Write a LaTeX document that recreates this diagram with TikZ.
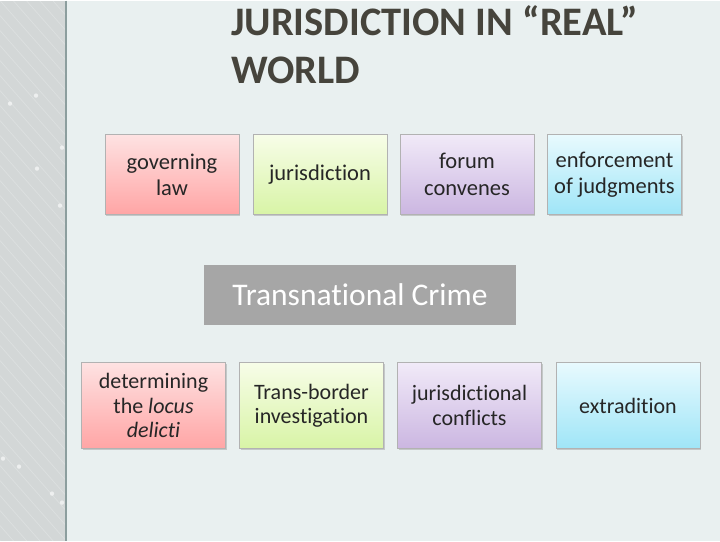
\documentclass[tikz,border=0pt]{standalone}
\usepackage{fontspec}
\setmainfont{Carlito}[Ligatures={NoCommon}]
\usetikzlibrary{shadows}

\definecolor{slidebg}{HTML}{E9F0F0}
\definecolor{stripbg}{HTML}{D3D7D7}
\definecolor{stripline}{HTML}{8C9E9E}
\definecolor{titlegrey}{HTML}{46443C}
\definecolor{crimegrey}{HTML}{A6A6A6}
\definecolor{pinktop}{HTML}{FEE2E2}
\definecolor{pinkbot}{HTML}{FFA5A5}
\definecolor{greentop}{HTML}{F7FDE8}
\definecolor{greenbot}{HTML}{D8F4A6}
\definecolor{lilactop}{HTML}{F1EAF8}
\definecolor{lilacbot}{HTML}{CBB6E1}
\definecolor{bluetop}{HTML}{E8FAFE}
\definecolor{bluebot}{HTML}{9FE5F7}

\tikzset{
  topic/.style={draw=black!30, line width=0.6pt, align=center, text=black!85,
    inner sep=2pt, drop shadow={shadow xshift=1pt, shadow yshift=-1.5pt, opacity=0.35}},
  upper/.style={topic, minimum width=134pt, minimum height=80pt, font=\fontsize{22.5}{26.5}\selectfont},
  lower/.style={topic, minimum width=144pt, minimum height=86pt, font=\fontsize{22}{24.5}\selectfont},
  pinkbox/.style={top color=pinktop, bottom color=pinkbot},
  greenbox/.style={top color=greentop, bottom color=greenbot},
  lilacbox/.style={top color=lilactop, bottom color=lilacbot},
  bluebox/.style={top color=bluetop, bottom color=bluebot},
  heading/.style={anchor=base west, text=titlegrey, inner sep=0pt,
    font=\fontsize{40.5}{48}\selectfont\bfseries},
}

\begin{document}
\begin{tikzpicture}[x=1pt, y=-1pt]
    % slide background and circuit strip
    \fill[slidebg] (0,0) rectangle (720,540);
    \fill[stripbg] (0,0) rectangle (66,540);
    \begin{scope}
      \clip (0,0) rectangle (66,540);
      \foreach \s in {-60,-45,...,560}
        \draw[white, opacity=0.22, line width=0.7pt] (0,\s) -- (66,\s+75);
      \foreach \px/\py in {10/103,62/147,37/168,60/205,3/458,19/466,62/502,52/493,36/95}
        \fill[white, opacity=0.6] (\px,\py) circle (2.2pt);
    \end{scope}
    \draw[stripline, line width=1.2pt] (66,0) -- (66,540);

    % title, two lines
    \node[heading] (title)  at (231,35) {JURISDICTION IN “REAL”};
    \node[heading] (title2) at (231,83) {WORLD};

    % upper row
    \node[upper, pinkbox]  (govlaw)  at (172,174)   {governing\\law};
    \node[upper, greenbox] (jurisd)  at (320,174)   {jurisdiction};
    \node[upper, lilacbox] (forum)   at (467,174)   {forum\\convenes};
    \node[upper, bluebox]  (enforce) at (614.5,174) {enforcement\\of judgments};

    % centre label
    \node[fill=crimegrey, text=white, minimum width=312pt, minimum height=60pt,
      font=\fontsize{31.5}{36}\selectfont] (crime) at (360,294) {Transnational Crime};

    % lower row
    \node[lower, pinkbox]  (locus)  at (153.5,405) {determining\\the \textit{locus}\\\textit{delicti}};
    \node[lower, greenbox] (border) at (311.5,405) {Trans-border\\investigation};
    \node[lower, lilacbox] (clash)  at (469.5,405) {jurisdictional\\conflicts};
    \node[lower, bluebox]  (extrad) at (628,405)   {extradition};
\end{tikzpicture}
\end{document}
